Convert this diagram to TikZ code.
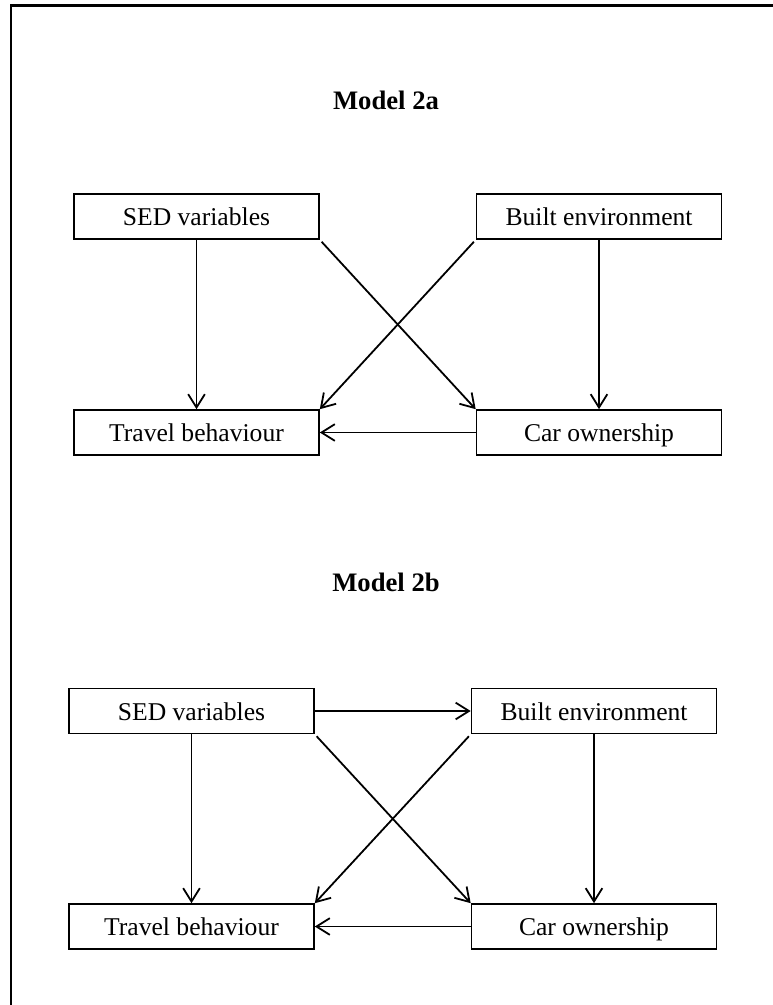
\documentclass[tikz,border=0pt]{standalone}
\usepackage{fontspec}
\setmainfont{Liberation Serif}
\usetikzlibrary{arrows.meta}

\tikzset{
  varbox/.style={draw, line width=1.2pt, rectangle, minimum width=183.75pt,
    minimum height=33.75pt, inner sep=0pt, text height=16pt, text depth=2pt,
    font=\fontsize{19.2}{23}\selectfont},
  title/.style={font=\fontsize{20}{24}\selectfont\bfseries},
  arr/.style={line width=1.35pt, -{Straight Barb[length=10pt,width=12.5pt,line width=1.35pt]}},
  frame/.style={line width=2.2pt}
}

\begin{document}
\begin{tikzpicture}[x=0.75pt, y=-0.75pt]
  \useasboundingbox (0,0) rectangle (773,1005);

  % outer frame (left and top edges)
  \draw[frame] (11,1005) -- (11,5.5) -- (773,5.5);

  % ---- Model 2a ----
  \node[title] (t2a) at (386,100) {Model 2a};
  \node[varbox] (sedA)   at (196.5,216.5) {SED variables};
  \node[varbox] (builtA) at (599,216.5)   {Built environment};
  \node[varbox] (travA)  at (196.5,432.5) {Travel behaviour};
  \node[varbox] (carA)   at (599,432.5)   {Car ownership};

  \draw[arr] (sedA.south) -- (travA.north);
  \draw[arr] (builtA.south) -- (carA.north);
  \draw[arr, shorten <=2pt] (sedA.south east) -- (carA.north west);
  \draw[arr, shorten <=2pt] (builtA.south west) -- (travA.north east);
  \draw[arr] (carA.west) -- (travA.east);

  % ---- Model 2b ----
  \node[title] (t2b) at (386,582) {Model 2b};
  \node[varbox] (sedB)   at (191.5,711)   {SED variables};
  \node[varbox] (builtB) at (594,711)     {Built environment};
  \node[varbox] (travB)  at (191.5,926.5) {Travel behaviour};
  \node[varbox] (carB)   at (594,926.5)   {Car ownership};

  \draw[arr] (sedB.east) -- (builtB.west);
  \draw[arr] (sedB.south) -- (travB.north);
  \draw[arr] (builtB.south) -- (carB.north);
  \draw[arr, shorten <=2pt] (sedB.south east) -- (carB.north west);
  \draw[arr, shorten <=2pt] (builtB.south west) -- (travB.north east);
  \draw[arr] (carB.west) -- (travB.east);
\end{tikzpicture}
\end{document}
